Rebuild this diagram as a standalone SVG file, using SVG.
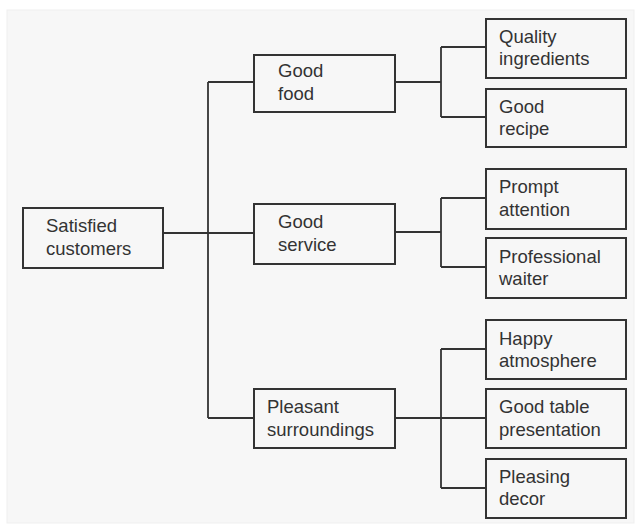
<svg xmlns="http://www.w3.org/2000/svg" width="641" height="527" viewBox="0 0 641 527">
<style>
.box{fill:#f7f7f7;stroke:#333;stroke-width:2}
.t{font-family:"Liberation Sans",Arial,sans-serif;font-size:18.5px;fill:#333}
.c{fill:none;stroke:#333;stroke-width:1.8}
</style>
<rect x="0" y="0" width="641" height="527" fill="#ffffff"/>
<rect x="7" y="10" width="627" height="513" fill="#f7f7f7" stroke="#efefef" stroke-width="1"/>
<g id="connectors">
<path class="c" d="M163,233 H254 M208,82 V418 M208,82 H254 M208,418 H254"/>
<path class="c" d="M395,82 H441 M441,47 V117 M441,47 H486 M441,117 H486"/>
<path class="c" d="M395,232 H441 M441,198 V267 M441,198 H486 M441,267 H486"/>
<path class="c" d="M395,418 H486 M441,349 V488 M441,349 H486 M441,488 H486"/>
</g>
<g id="satisfied">
<rect class="box" x="23" y="208" width="140" height="60"/>
<text class="t" x="46" y="232">Satisfied</text>
<text class="t" x="46" y="255">customers</text>
</g>
<g id="goodfood">
<rect class="box" x="254" y="55" width="141" height="57"/>
<text class="t" x="278" y="77">Good</text>
<text class="t" x="278" y="100">food</text>
</g>
<g id="goodservice">
<rect class="box" x="254" y="204" width="141" height="60"/>
<text class="t" x="278" y="228">Good</text>
<text class="t" x="278" y="251">service</text>
</g>
<g id="pleasant">
<rect class="box" x="254" y="389" width="141" height="59"/>
<text class="t" x="267" y="413">Pleasant</text>
<text class="t" x="267" y="436">surroundings</text>
</g>
<g id="quality">
<rect class="box" x="486" y="19" width="140" height="59"/>
<text class="t" x="499" y="43">Quality</text>
<text class="t" x="499" y="65">ingredients</text>
</g>
<g id="recipe">
<rect class="box" x="486" y="89" width="140" height="58"/>
<text class="t" x="499" y="113">Good</text>
<text class="t" x="499" y="135">recipe</text>
</g>
<g id="prompt">
<rect class="box" x="486" y="169" width="140" height="60"/>
<text class="t" x="499" y="193">Prompt</text>
<text class="t" x="499" y="216">attention</text>
</g>
<g id="professional">
<rect class="box" x="486" y="238" width="140" height="60"/>
<text class="t" x="499" y="263">Professional</text>
<text class="t" x="499" y="285">waiter</text>
</g>
<g id="happy">
<rect class="box" x="486" y="320" width="140" height="59"/>
<text class="t" x="499" y="345">Happy</text>
<text class="t" x="499" y="367">atmosphere</text>
</g>
<g id="table">
<rect class="box" x="486" y="389" width="140" height="59"/>
<text class="t" x="499" y="413">Good table</text>
<text class="t" x="499" y="436">presentation</text>
</g>
<g id="decor">
<rect class="box" x="486" y="459" width="140" height="59"/>
<text class="t" x="499" y="483">Pleasing</text>
<text class="t" x="499" y="505">decor</text>
</g>
</svg>
